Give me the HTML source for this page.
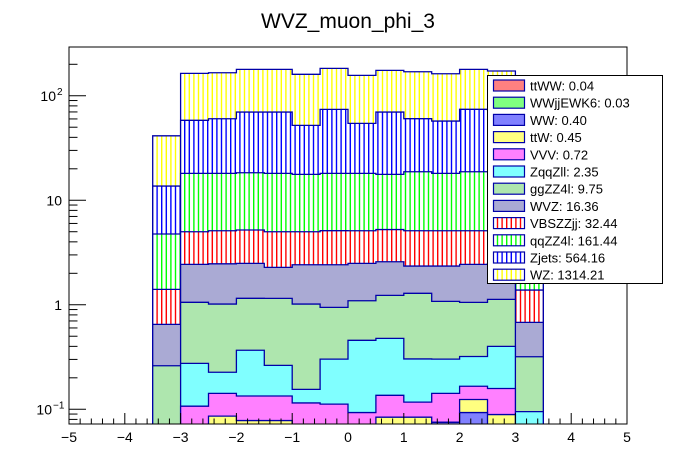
<!DOCTYPE html>
<html><head><meta charset="utf-8"><style>
body{margin:0;background:#fff;}
svg{display:block;font-family:"Liberation Sans",sans-serif;}
</style></head><body>
<svg id="c" width="696" height="472" viewBox="0 0 696 472" xmlns="http://www.w3.org/2000/svg">
<defs>
<pattern id="vl-VBS" width="4.6" height="4" patternUnits="userSpaceOnUse"><rect width="4.6" height="4" fill="#fff"/><rect width="1.4" height="4" fill="#f00"/></pattern>
<pattern id="vl-qq" width="4.6" height="4" patternUnits="userSpaceOnUse"><rect width="4.6" height="4" fill="#fff"/><rect width="1.4" height="4" fill="#0f0"/></pattern>
<pattern id="vl-Zj" width="4.6" height="4" patternUnits="userSpaceOnUse"><rect width="4.6" height="4" fill="#fff"/><rect width="1.4" height="4" fill="#00f"/></pattern>
<pattern id="vl-WZ" width="4.6" height="4" patternUnits="userSpaceOnUse"><rect width="4.6" height="4" fill="#fff"/><rect width="1.4" height="4" fill="#ff0"/></pattern>
<clipPath id="frameclip"><rect x="69" y="47" width="558" height="377"/></clipPath>
</defs>
<text x="348" y="28" text-anchor="middle" font-size="21">WVZ_muon_phi_3</text>
<g id="stack" clip-path="url(#frameclip)"></g>
<rect x="69" y="47" width="558" height="377" fill="none" stroke="#000" stroke-width="1"/>
<g id="axes"></g>
<g id="legend"></g>
</svg>
<script>
// bin edges: 14 bins from -3.5 to 3.5
const binLow = -3.5, binWidth = 0.5;
const seriesNames = ["ttWW: 0.04","WWjjEWK6: 0.03","WW: 0.40","ttW: 0.45","VVV: 0.72","ZqqZll: 2.35","ggZZ4l: 9.75","WVZ: 16.36","VBSZZjj: 32.44","qqZZ4l: 161.44","Zjets: 564.16","WZ: 1314.21"];
const ttWW  = [0,0,0,0,0,0,0,0,0,0,0,0,0,0];
const WWjj  = [0,0,0,0,0,0,0,0,0,0,0,0,0,0];
const WW    = [0,0,0,0,0,0,0,0,0,0,0.075,0.093,0,0];
const ttW   = [0,0,0.086,0.078,0.078,0,0,0,0.084,0.084,0,0.031,0.089,0];
const VVV   = [0,0.107,0.056,0.056,0.056,0.115,0.112,0.093,0.052,0.033,0.067,0.042,0.069,0];
const ZqqZll= [0,0.168,0.084,0.233,0.129,0.040,0.190,0.364,0.341,0.186,0.160,0.154,0.242,0.095];
const ggZZ4l= [0.261,0.78,0.79,0.786,0.889,0.861,0.642,0.636,0.753,0.984,0.776,0.734,0.726,0.223];
const WVZ   = [0.388,1.38,1.45,1.338,1.128,1.40,1.471,1.398,1.35,1.06,1.268,1.381,1.364,0.361];
const VBSZZjj=[0.755,2.56,2.64,2.70,2.715,2.58,2.70,2.62,2.665,2.76,2.76,2.674,2.62,0.704];
const qqZZ4l= [3.35,13.1,12.98,13.14,13.1,12.7,12.98,12.98,12.45,13.63,12.98,13.63,13.63,3.4];
const Zjets = [8.92,40.1,42.2,51.5,51.7,34.4,56.0,36.3,52.1,41.6,39.2,55.4,54.3,9.0];
const WZ    = [27.7,105.6,105.7,109.1,109.1,108.2,108.8,102.4,105.2,109.4,105.1,104.8,99.4,28.0];
const xTicks = [-5,-4,-3,-2,-1,0,1,2,3,4,5];
const xTickLabels = ["\u22125","\u22124","\u22123","\u22122","\u22121","0","1","2","3","4","5"];

const series = [ttWW,WWjj,WW,ttW,VVV,ZqqZll,ggZZ4l,WVZ,VBSZZjj,qqZZ4l,Zjets,WZ];
const fills = ["#ff8080","#80ff80","#8080ff","#ffff80","#ff80ff","#80ffff","#aee6ae","#aaaad4","url(#vl-VBS)","url(#vl-qq)","url(#vl-Zj)","url(#vl-WZ)"];
const seriesKeys = ["ttww","wwjjewk6","ww","ttw","vvv","zqqzll","ggzz4l","wvz","vbszzjj","qqzz4l","zjets","wz"];

const X0=69, X1=627, Y0=424, Y1=47;
const xMin=-5, xMax=5, lMin=-1.1409, lMax=2.4665;
function xs(v){return X0+(v-xMin)/(xMax-xMin)*(X1-X0);}
function ys(v){ if(v<=0) return Y0+50; const l=Math.log10(v); return Y0-(l-lMin)/(lMax-lMin)*(Y0-Y1);}
const NS="http://www.w3.org/2000/svg";
function mk(t,a){const e=document.createElementNS(NS,t);for(const k in a)e.setAttribute(k,a[k]);return e;}

const stack=document.getElementById('stack');
const nb=WZ.length;
let cum=new Array(nb).fill(0);
const tops=[];
series.forEach((s,i)=>{ const t=cum.map((c,b)=>c+s[b]); tops.push(t); cum=t; });
for(let i=series.length-1;i>=0;i--){
  const t=tops[i];
  let d="", line="";
  for(let b=0;b<nb;b++){
    const xa=xs(binLow+b*binWidth), xb=xs(binLow+(b+1)*binWidth);
    const y=ys(t[b]);
    d+=(b===0?"M"+xa+","+(Y0+60)+" L":" L")+xa+","+y+" L"+xb+","+y;
    line+=(b===0?"M"+xa+","+(Y0+60)+" L":" L")+xa+","+y+" L"+xb+","+y;
  }
  const xe=xs(binLow+nb*binWidth);
  d+=" L"+xe+","+(Y0+60)+" Z";
  line+=" L"+xe+","+(Y0+60);
  const hasAny=series[i].some(v=>v>0);
  if(!hasAny) continue;
  const p=mk('path',{d:d,fill:fills[i],stroke:"none"});
  
  
  stack.appendChild(p);
  const l=mk('path',{d:line,fill:"none",stroke:"#0000a8","stroke-width":"1.3"});
  
  
  stack.appendChild(l);
}

const axes=document.getElementById('axes');
for(let v=-5;v<=5.0001;v+=0.2){
  const vv=Math.round(v*10)/10;
  const major=Math.abs(vv-Math.round(vv))<1e-6;
  const x=xs(vv);
  const t=mk('line',{x1:x,x2:x,y1:Y0,y2:Y0-(major?11:5.5),stroke:"#000","stroke-width":"1"});
  
  
  axes.appendChild(t);
}
xTicks.forEach((v,i)=>{
  const t=mk('text',{x:xs(v),y:442,"text-anchor":"middle","font-size":"14"});
  t.textContent=xTickLabels[i];
  
  
  axes.appendChild(t);
});
for(let dec=-2;dec<=2;dec++){
  for(let m=1;m<=9;m++){
    const v=m*Math.pow(10,dec);
    const l=Math.log10(v);
    if(l<lMin||l>lMax) continue;
    const y=ys(v);
    const t=mk('line',{x1:X0,x2:X0+(m===1?17:8.5),y1:y,y2:y,stroke:"#000","stroke-width":"1"});
    
    
    axes.appendChild(t);
  }
}
const yLab=[[100,"10","2"],[10,"10",""],[1,"1",""],[0.1,"10","\u22121"]];
yLab.forEach(a=>{
  const y=ys(a[0]);
  const t=mk('text',{x:a[2]?(a[2].length>1?52:56):62,y:y+5,"text-anchor":"end","font-size":"14"});
  t.textContent=a[1];
  
  
  axes.appendChild(t);
  if(a[2]){
    const s=mk('text',{x:a[2].length>1?53:57,y:y-1,"font-size":"10"});
    s.textContent=a[2];
    
    
    axes.appendChild(s);
  }
});

const leg=document.getElementById('legend');
const box=mk('rect',{x:487.5,y:75.5,width:175,height:208,fill:"#fff",stroke:"#000","stroke-width":"1"});


leg.appendChild(box);
seriesNames.forEach((n,i)=>{
  const y=78.5+i*17.2;
  const r=mk('rect',{x:493.5,y:y+1.5,width:31,height:11,fill:fills[i],stroke:"#0000a8","stroke-width":"1.2"});
  
  
  leg.appendChild(r);
  const t=mk('text',{x:530,y:y+12,"font-size":"13"});
  t.textContent=n;
  
  
  leg.appendChild(t);
});
</script>
</body></html>
